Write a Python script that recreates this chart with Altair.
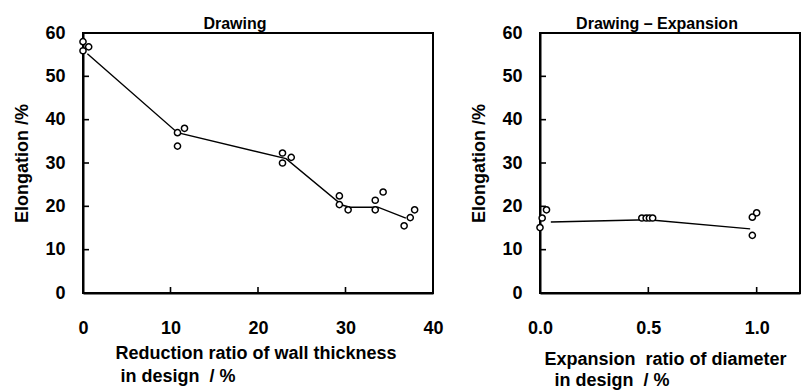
import altair as alt
import pandas as pd

# ---- Left panel: Drawing ----
draw_red = [0.0, 0.0, 0.65, 10.8, 10.8, 11.6, 22.8, 22.8, 23.8, 29.3, 29.3, 30.3,
            33.4, 33.4, 34.3, 36.7, 37.4, 37.9]
draw_elong = [58.0, 55.9, 56.8, 37.0, 33.9, 38.0, 32.3, 30.0, 31.3, 22.4, 20.4, 19.2,
              21.4, 19.2, 23.3, 15.5, 17.4, 19.2]
draw_line_red = [0.5, 10.8, 23.2, 29.6, 30.5, 33.7, 36.9]
draw_line_elong = [55.2, 37.0, 31.0, 20.3, 19.8, 19.8, 17.3]

# ---- Right panel: Drawing - Expansion ----
exp_ratio = [0.0, 0.01, 0.03, 0.47, 0.49, 0.505, 0.52, 0.98, 0.98, 1.0]
exp_elong = [15.1, 17.3, 19.2, 17.3, 17.3, 17.3, 17.3, 13.3, 17.5, 18.5]
exp_line_ratio = [0.05, 0.5, 0.97]
exp_line_elong = [16.4, 16.9, 14.8]

left_x_ticks = [0, 10, 20, 30, 40]
right_x_ticks = [0.0, 0.5, 1.0]
y_ticks = [0, 10, 20, 30, 40, 50, 60]

FONT = "Liberation Sans"
NB = "\u00a0"
ZW = "\u200b"

d_pts = pd.DataFrame({"x": draw_red, "y": draw_elong})
d_line = pd.DataFrame({"x": draw_line_red, "y": draw_line_elong})
e_pts = pd.DataFrame({"x": exp_ratio, "y": exp_elong})
e_line = pd.DataFrame({"x": exp_line_ratio, "y": exp_line_elong})

H = 260
TICK = 6


def panel(pts, line, xdomain, xticks, xfmt, xtitle, title, tdx, w,
          title_x, title_y, title_lh):
    xs = alt.Scale(domain=xdomain, nice=False, zero=False)
    ys = alt.Scale(domain=[0, 60], nice=False)
    xa = alt.Axis(values=xticks, format=xfmt, title=xtitle, ticks=False,
                  labelPadding=26, labelFlush=False, titleAlign="left",
                  titleX=title_x, titleY=title_y, titleBaseline="top",
                  titleLineHeight=title_lh)
    ya = alt.Axis(values=y_ticks, title="Elongation /%", ticks=False,
                  labelPadding=18, titleX=-61, titleBaseline="middle")
    X = alt.X("x:Q", scale=xs, axis=xa)
    Y = alt.Y("y:Q", scale=ys, axis=ya)
    ln = alt.Chart(line).mark_line(color="black", strokeWidth=1.4).encode(x=X, y=Y)
    # inward tick marks on the bottom axis (outer half clipped by the frame)
    xt = alt.Chart(pd.DataFrame({"x": xticks})).mark_tick(
        color="black", thickness=1.6, size=2 * TICK, orient="vertical",
        clip=True, opacity=1).encode(x=X, y=alt.value(H))
    # inward tick marks on the left axis
    ytk = alt.Chart(pd.DataFrame({"y": y_ticks})).mark_tick(
        color="black", thickness=1.6, size=2 * TICK, orient="horizontal",
        clip=True, opacity=1).encode(y=Y, x=alt.value(0))
    pt = alt.Chart(pts).mark_point(shape="circle", size=38, filled=False,
                                   color="black", strokeWidth=1.5,
                                   fill="white", fillOpacity=1, opacity=1).encode(
        x=X, y=Y,
    )
    return alt.layer(ln, xt, ytk, pt).properties(
        width=w, height=H,
        title=alt.TitleParams(title, dx=tdx, fontSize=16, fontWeight="bold",
                              font=FONT, color="black", offset=-8),
    )


left = panel(d_pts, d_line, [0, 40], left_x_ticks, "d",
             ["Reduction ratio of wall thickness", ZW + NB + "in design" + NB + NB + "/ %"],
             "Drawing", -23, 350, 32, 51, 23)
right = panel(e_pts, e_line, [0, 1.2], right_x_ticks, ".1f",
              ["Expansion" + NB + NB + "ratio of diameter",
               ZW + NB + NB + "in design" + NB + NB + "/ %"],
              "Drawing \u2013 Expansion", -13, 260, 4, 57, 21)

chart = alt.hconcat(left, right, spacing=23).properties(
    padding={"left": 11, "top": 15, "right": 0, "bottom": 0},
    background="white",
).configure_view(stroke="black", strokeWidth=2).configure_axis(
    labelFont=FONT, titleFont=FONT, labelFontSize=18, labelFontWeight="bold",
    titleFontSize=18, titleFontWeight="bold", labelColor="black",
    titleColor="black", domainColor="black", domainWidth=2, grid=False,
)

chart.save("out.html", embed_options={"renderer": "svg", "actions": False})
